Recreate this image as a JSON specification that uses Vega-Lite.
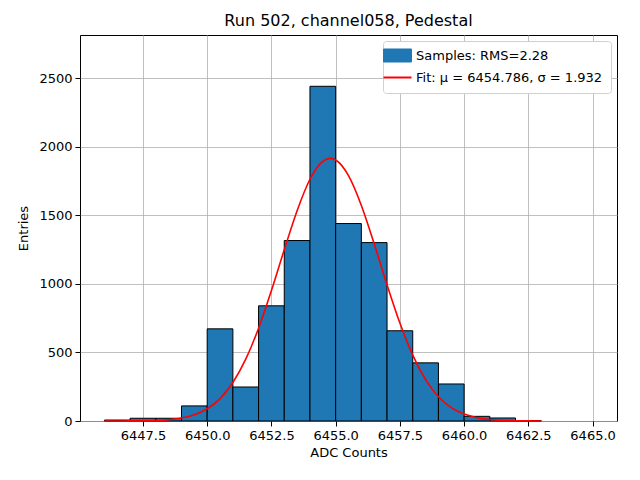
{
  "$schema": "https://vega.github.io/schema/vega-lite/v6.json",
  "width": 537,
  "height": 386,
  "autosize": "none",
  "padding": {"left": 80, "top": 35, "right": 23, "bottom": 59},
  "background": "white",
  "title": {"text": "Run 502, channel058, Pedestal", "fontSize": 16, "fontWeight": "normal", "font": "DejaVu Sans", "color": "black", "offset": 6},
  "config": {
    "font": "DejaVu Sans",
    "view": {"stroke": "black", "strokeWidth": 1},
    "axis": {
      "labelFont": "DejaVu Sans", "labelFontSize": 13, "labelColor": "black",
      "titleFont": "DejaVu Sans", "titleFontSize": 13, "titleFontWeight": "normal", "titleColor": "black",
      "gridColor": "#b0b0b0", "gridWidth": 0.8, "gridOpacity": 1,
      "tickColor": "black", "tickSize": 5, "domain": false, "labelPadding": 3
    },
    "legend": {
      "labelFont": "DejaVu Sans", "labelFontSize": 13, "labelColor": "black", "labelLimit": 400,
      "fillColor": "white", "strokeColor": "#d0d0d0", "cornerRadius": 3, "padding": 8,
      "offset": 6, "title": null, "symbolSize": 400, "labelOffset": 12, "rowPadding": 7
    }
  },
  "datasets": {
    "bars": [
      {"lo": 6446, "hi": 6447, "count": 7, "series": "Samples: RMS=2.28"},
      {"lo": 6447, "hi": 6448, "count": 20, "series": "Samples: RMS=2.28"},
      {"lo": 6448, "hi": 6449, "count": 20, "series": "Samples: RMS=2.28"},
      {"lo": 6449, "hi": 6450, "count": 110, "series": "Samples: RMS=2.28"},
      {"lo": 6450, "hi": 6451, "count": 672, "series": "Samples: RMS=2.28"},
      {"lo": 6451, "hi": 6452, "count": 248, "series": "Samples: RMS=2.28"},
      {"lo": 6452, "hi": 6453, "count": 840, "series": "Samples: RMS=2.28"},
      {"lo": 6453, "hi": 6454, "count": 1316, "series": "Samples: RMS=2.28"},
      {"lo": 6454, "hi": 6455, "count": 2441, "series": "Samples: RMS=2.28"},
      {"lo": 6455, "hi": 6456, "count": 1440, "series": "Samples: RMS=2.28"},
      {"lo": 6456, "hi": 6457, "count": 1301, "series": "Samples: RMS=2.28"},
      {"lo": 6457, "hi": 6458, "count": 658, "series": "Samples: RMS=2.28"},
      {"lo": 6458, "hi": 6459, "count": 424, "series": "Samples: RMS=2.28"},
      {"lo": 6459, "hi": 6460, "count": 270, "series": "Samples: RMS=2.28"},
      {"lo": 6460, "hi": 6461, "count": 34, "series": "Samples: RMS=2.28"},
      {"lo": 6461, "hi": 6462, "count": 22, "series": "Samples: RMS=2.28"},
      {"lo": 6462, "hi": 6463, "count": 3, "series": "Samples: RMS=2.28"}
    ],
    "fit": [
      {"x": 6446.0, "y": 0.06}, {"x": 6446.5, "y": 0.19}, {"x": 6447.0, "y": 0.57},
      {"x": 6447.5, "y": 1.56}, {"x": 6448.0, "y": 4.0}, {"x": 6448.5, "y": 9.6},
      {"x": 6449.0, "y": 21.6}, {"x": 6449.5, "y": 45.4}, {"x": 6450.0, "y": 89.0},
      {"x": 6450.5, "y": 163.4}, {"x": 6451.0, "y": 280.8}, {"x": 6451.5, "y": 450.7},
      {"x": 6452.0, "y": 677}, {"x": 6452.5, "y": 951}, {"x": 6453.0, "y": 1249},
      {"x": 6453.5, "y": 1534}, {"x": 6454.0, "y": 1763}, {"x": 6454.5, "y": 1894},
      {"x": 6454.786, "y": 1915}, {"x": 6455.0, "y": 1903}, {"x": 6455.5, "y": 1789},
      {"x": 6456.0, "y": 1572}, {"x": 6456.5, "y": 1292}, {"x": 6457.0, "y": 993},
      {"x": 6457.5, "y": 714}, {"x": 6458.0, "y": 480}, {"x": 6458.5, "y": 301.8},
      {"x": 6459.0, "y": 177.4}, {"x": 6459.5, "y": 97.6}, {"x": 6460.0, "y": 50.2},
      {"x": 6460.5, "y": 24.1}, {"x": 6461.0, "y": 10.9}, {"x": 6461.5, "y": 4.6},
      {"x": 6462.0, "y": 1.8}, {"x": 6462.5, "y": 0.66}, {"x": 6463.0, "y": 0.23}
    ]
  },
  "layer": [
    {
      "data": {"name": "bars"},
      "mark": {"type": "bar", "stroke": "black", "strokeWidth": 1, "opacity": 1},
      "encoding": {
        "x": {"field": "lo", "type": "quantitative", "scale": {"domain": [6445.05, 6465.95], "nice": false, "zero": false},
              "axis": {"values": [6447.5, 6450, 6452.5, 6455, 6457.5, 6460, 6462.5, 6465], "format": ".1f", "title": "ADC Counts", "titlePadding": 4}},
        "x2": {"field": "hi"},
        "y": {"field": "count", "type": "quantitative", "scale": {"domain": [0, 2815], "nice": false},
              "axis": {"values": [0, 500, 1000, 1500, 2000, 2500], "format": "d", "title": "Entries", "titlePadding": 8}},
        "y2": {"datum": 0},
        "color": {"field": "series", "type": "nominal",
                  "scale": {"domain": ["Samples: RMS=2.28", "Fit: μ = 6454.786, σ = 1.932"], "range": ["#1f77b4", "red"]},
                  "legend": {"orient": "top-right",
                             "encode": {"symbols": {"update": {
                               "shape": {"signal": "datum.index === 0 ? 'M-1.4,-0.65H1.4V0.65H-1.4Z' : 'M-1.4,0H1.4'"},
                               "fill": {"signal": "datum.index === 0 ? '#1f77b4' : 'transparent'"},
                               "stroke": {"signal": "datum.index === 0 ? 'black' : 'red'"},
                               "strokeWidth": {"signal": "datum.index === 0 ? 1 : 2"},
                               "opacity": {"value": 1}
                             }}}}}
      }
    },
    {
      "data": {"name": "fit"},
      "mark": {"type": "line", "strokeWidth": 1.6, "interpolate": "monotone"},
      "encoding": {
        "x": {"field": "x", "type": "quantitative"},
        "y": {"field": "y", "type": "quantitative"},
        "color": {"datum": "Fit: μ = 6454.786, σ = 1.932", "type": "nominal",
                  "legend": {"orient": "top-right",
                             "encode": {"symbols": {"update": {
                               "shape": {"signal": "datum.index === 0 ? 'M-1.4,-0.65H1.4V0.65H-1.4Z' : 'M-1.4,0H1.4'"},
                               "fill": {"signal": "datum.index === 0 ? '#1f77b4' : 'transparent'"},
                               "stroke": {"signal": "datum.index === 0 ? 'black' : 'red'"},
                               "strokeWidth": {"signal": "datum.index === 0 ? 1 : 2"},
                               "opacity": {"value": 1}
                             }}}}}
      }
    }
  ]
}
